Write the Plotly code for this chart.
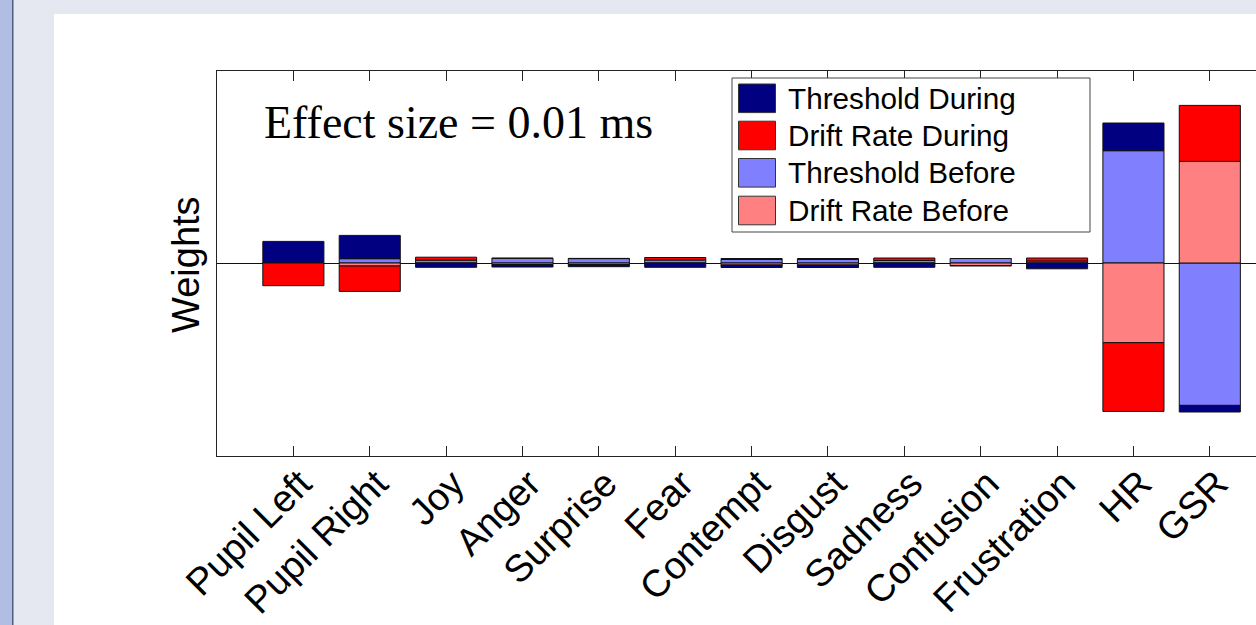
import plotly.graph_objects as go

categories = ["Pupil Left", "Pupil Right", "Joy", "Anger", "Surprise", "Fear",
              "Contempt", "Disgust", "Sadness", "Confusion", "Frustration", "HR", "GSR"]
threshold_before = [0.0, 0.043, 0.028, 0.046, 0.044, 0.030, 0.035, 0.035, 0.025, 0.045, 0.020, 1.123, -1.424]
drift_before = [0.0, -0.030, -0.003, -0.015, -0.015, -0.003, -0.020, -0.020, -0.003, -0.025, -0.003, -0.797, 1.016]
threshold_during = [0.216, 0.233, -0.040, -0.025, -0.022, -0.040, -0.025, -0.025, -0.040, -0.005, -0.055, 0.277, -0.066]
drift_during = [-0.227, -0.254, 0.030, 0.003, 0.002, 0.025, 0.010, 0.010, 0.025, 0.0, 0.030, -0.687, 0.560]

series = [
    ("Threshold Before", threshold_before, "#8080ff"),
    ("Drift Rate Before", drift_before, "#ff8080"),
    ("Threshold During", threshold_during, "#000080"),
    ("Drift Rate During", drift_during, "#ff0000"),
]
legend_order = ["Threshold During", "Drift Rate During", "Threshold Before", "Drift Rate Before"]
colors = {name: c for name, _, c in series}

W, H = 1256, 625
L, R, T, B = 217, 1256, 71, 456


def px_x(p):
    return (p - L) / (R - L)


def px_y(p):
    return (B - p) / (B - T)


xpos = list(range(1, len(categories) + 1))

fig = go.Figure()
for name, vals, col in series:
    fig.add_trace(go.Bar(
        x=xpos, y=vals, name=name, width=0.8,
        marker=dict(color=col, line=dict(color="#111111", width=1)),
        showlegend=False,
    ))

shapes = []
# slide background pieces
shapes.append(dict(type="rect", xref="paper", yref="paper", layer="below",
                   x0=px_x(0), x1=px_x(12), y0=px_y(0), y1=px_y(W), fillcolor="#b1bde1", line=dict(width=0)))
shapes.append(dict(type="rect", xref="paper", yref="paper", layer="below",
                   x0=px_x(12), x1=px_x(13.5), y0=px_y(0), y1=px_y(W), fillcolor="#4f5f80", line=dict(width=0)))
shapes.append(dict(type="rect", xref="paper", yref="paper", layer="below",
                   x0=px_x(54), x1=px_x(W + 5), y0=px_y(14), y1=px_y(H + 5), fillcolor="#ffffff", line=dict(width=0)))

# custom legend
lx0, lx1, ly0, ly1 = 732, 1090, 78, 232
shapes.append(dict(type="rect", xref="paper", yref="paper", layer="above",
                   x0=px_x(lx0), x1=px_x(lx1), y0=px_y(ly0), y1=px_y(ly1),
                   fillcolor="#ffffff", line=dict(color="#444444", width=1)))
row_centers = [98.3, 135.5, 172.8, 210.5]
annotations = []
for name, cy in zip(legend_order, row_centers):
    shapes.append(dict(type="rect", xref="paper", yref="paper", layer="above",
                       x0=px_x(738.5), x1=px_x(775.5), y0=px_y(cy - 14.3), y1=px_y(cy + 14.3),
                       fillcolor=colors[name], line=dict(color="#333333", width=1)))
    annotations.append(dict(xref="paper", yref="paper", x=px_x(786), y=px_y(cy),
                            xanchor="left", yanchor="middle", showarrow=False, text=name,
                            font=dict(family="Liberation Sans", size=29.7, color="#000000")))

annotations.append(dict(xref="paper", yref="paper", x=px_x(262), y=px_y(122),
                        xanchor="left", yanchor="middle", showarrow=False,
                        text="Effect size = 0.01 ms",
                        font=dict(family="Liberation Serif", size=46, color="#000000")))
annotations.append(dict(xref="paper", yref="paper", x=px_x(186), y=px_y(265),
                        xanchor="center", yanchor="middle", showarrow=False, textangle=-90,
                        text="Weights",
                        font=dict(family="Liberation Sans", size=38, color="#000000")))

fig.update_layout(
    width=W, height=H,
    margin=dict(l=L, r=W - R, t=T, b=H - B, pad=0),
    paper_bgcolor="#e5e8f1",
    plot_bgcolor="#ffffff",
    barmode="relative",
    bargap=0.2,
    shapes=shapes,
    annotations=annotations,
    xaxis=dict(
        range=[0, (R - L) / 76.37], tickmode="array", tickvals=xpos, ticktext=categories,
        tickangle=-45, ticks="inside", ticklen=10, tickcolor="#222222", tickwidth=1,
        showline=True, linecolor="#222222", linewidth=1, mirror="ticks",
        showgrid=False, zeroline=False,
        ticklabelshift=7, ticklabelstandoff=-11,
        tickfont=dict(family="Liberation Sans", size=38, color="#000000"),
    ),
    yaxis=dict(
        range=[-1.93, 1.92], showticklabels=False, ticks="", showgrid=False,
        showline=True, linecolor="#222222", linewidth=1,
        zeroline=True, zerolinecolor="#111111", zerolinewidth=1,
    ),
)

fig.write_html("out.html", config={"displayModeBar": False},
               post_script="document.body.style.margin='0';document.body.style.overflow='hidden';")
